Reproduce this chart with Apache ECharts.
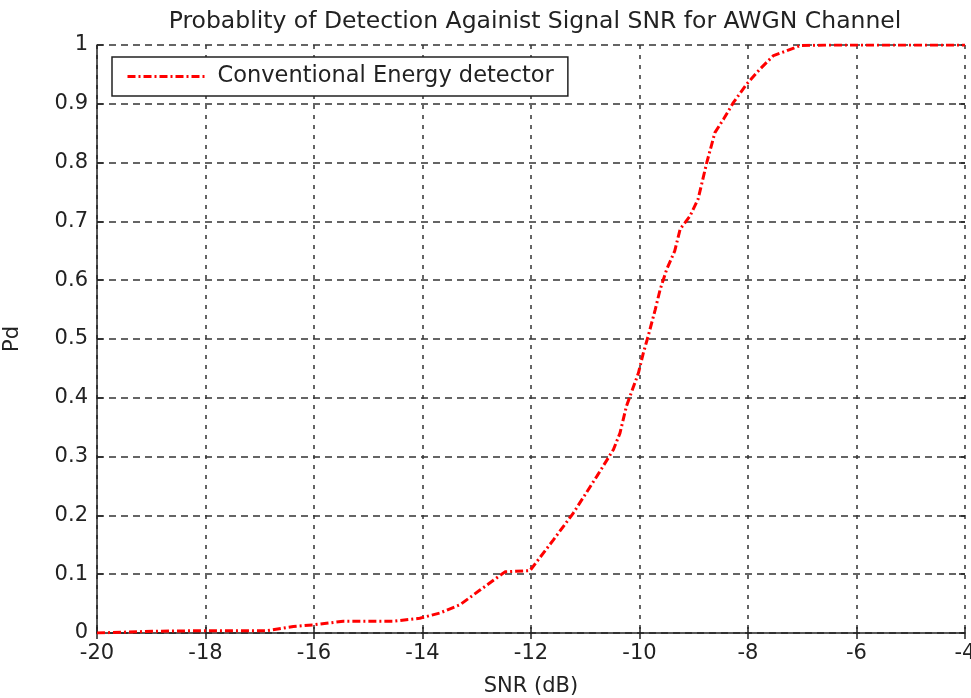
<!DOCTYPE html>
<html>
<head>
<meta charset="utf-8">
<script src="https://cdn.jsdelivr.net/npm/echarts@6/dist/echarts.min.js"></script>
<style>
  html, body { margin: 0; padding: 0; background: #fff; }
  #chart { width: 971px; height: 698px; }
</style>
</head>
<body>
<div id="chart"></div>
<script>
// SNR in dB and probability of detection for the energy detector
const snr = [-20, -18.98, -17.98, -16.87, -16.38, -16.0, -15.46, -14.54, -14.05, -13.68,
  -13.31, -12.94, -12.48, -12.02, -11.59, -11.22, -10.79, -10.48, -10.36, -10.24,
  -10.02, -9.93, -9.84, -9.71, -9.62, -9.50, -9.35, -9.25, -9.07, -8.92,
  -8.76, -8.61, -8.45, -8.27, -8.02, -7.78, -7.53, -7.29, -7.04, -6.55, -6, -5, -4];
const pd = [0, 0.003, 0.004, 0.004, 0.011, 0.014, 0.020, 0.020, 0.025, 0.034,
  0.048, 0.073, 0.104, 0.106, 0.158, 0.204, 0.266, 0.312, 0.340, 0.386,
  0.442, 0.476, 0.505, 0.550, 0.584, 0.618, 0.650, 0.687, 0.709, 0.738,
  0.800, 0.851, 0.874, 0.902, 0.934, 0.959, 0.982, 0.990, 0.999, 1.0, 1.0, 1.0, 1.0];

const xTicks = [-20, -18, -16, -14, -12, -10, -8, -6, -4];
const yTicks = [0, 0.1, 0.2, 0.3, 0.4, 0.5, 0.6, 0.7, 0.8, 0.9, 1];

const titleText = 'Probablity of Detection Againist Signal SNR for AWGN Channel';
const seriesName = 'Conventional Energy detector';

const FONT = '"DejaVu Sans", Verdana, sans-serif';
const textColor = '#222';
const gridColor = '#333';
const curveColor = '#ff0000';
const curveDash = [8, 3, 2, 3];

const chart = echarts.init(document.getElementById('chart'), null, { renderer: 'canvas' });

const fmtY = v => {
  const r = Math.round(v * 10) / 10;
  return (r === 0 || r === 1) ? String(r) : r.toFixed(1);
};

const boxTicks = { show: true, inside: true, length: 6, lineStyle: { color: textColor, width: 1.5 } };

chart.setOption({
  animation: false,
  backgroundColor: '#fff',
  textStyle: { fontFamily: FONT },
  title: {
    text: titleText,
    left: 530, textAlign: 'center', top: 5,
    textStyle: { fontFamily: FONT, fontSize: 23.5, fontWeight: 'normal', color: textColor }
  },
  grid: { left: 97, right: 6, top: 45, bottom: 65, containLabel: false, outerBoundsMode: 'none' },
  legend: {
    left: 112, top: 57,
    padding: [8, 14, 8, 14],
    borderColor: textColor, borderWidth: 1.5, borderRadius: 0,
    backgroundColor: '#fff',
    itemWidth: 80, itemHeight: 12, itemGap: 8,
    itemStyle: { opacity: 0 },
    lineStyle: { color: curveColor, width: 3, type: curveDash },
    textStyle: { fontFamily: FONT, fontSize: 22.5, color: textColor, padding: [0, 0, 0, 5] },
    data: [{ name: seriesName }]
  },
  xAxis: [{
    type: 'value', min: xTicks[0], max: xTicks[xTicks.length - 1], interval: 2,
    name: 'SNR (dB)', nameLocation: 'middle', nameGap: 43,
    nameTextStyle: { fontFamily: FONT, fontSize: 21, color: textColor },
    axisLine: { show: true, onZero: false, lineStyle: { color: textColor, width: 1.5 } },
    axisTick: boxTicks,
    axisLabel: { fontFamily: FONT, fontSize: 21, color: textColor, margin: 10 },
    splitLine: { show: true, lineStyle: { color: gridColor, width: 1.5, type: [4, 6] } }
  }, {
    type: 'value', position: 'top', min: xTicks[0], max: xTicks[xTicks.length - 1], interval: 2,
    axisLine: { show: false },
    axisTick: boxTicks,
    axisLabel: { show: false }, splitLine: { show: false }
  }],
  yAxis: [{
    type: 'value', min: 0, max: 1, interval: 0.1,
    name: 'Pd', nameLocation: 'middle', nameGap: 74, nameRotate: 90,
    nameTextStyle: { fontFamily: FONT, fontSize: 21, color: textColor },
    axisLine: { show: true, onZero: false, lineStyle: { color: textColor, width: 1.5 } },
    axisTick: boxTicks,
    axisLabel: { fontFamily: FONT, fontSize: 21, color: textColor, margin: 9, formatter: fmtY },
    splitLine: { show: true, lineStyle: { color: gridColor, width: 1.5, type: [7, 5] } }
  }, {
    type: 'value', position: 'right', min: 0, max: 1, interval: 0.1,
    axisLine: { show: false },
    axisTick: boxTicks,
    axisLabel: { show: false }, splitLine: { show: false }
  }],
  series: [{
    name: seriesName,
    type: 'line',
    xAxisIndex: 0, yAxisIndex: 0,
    data: snr.map((x, i) => [x, pd[i]]),
    symbol: 'none', symbolSize: 0,
    lineStyle: { color: curveColor, width: 3, type: curveDash },
    itemStyle: { color: curveColor },
    z: 5
  }]
});
</script>
</body>
</html>
